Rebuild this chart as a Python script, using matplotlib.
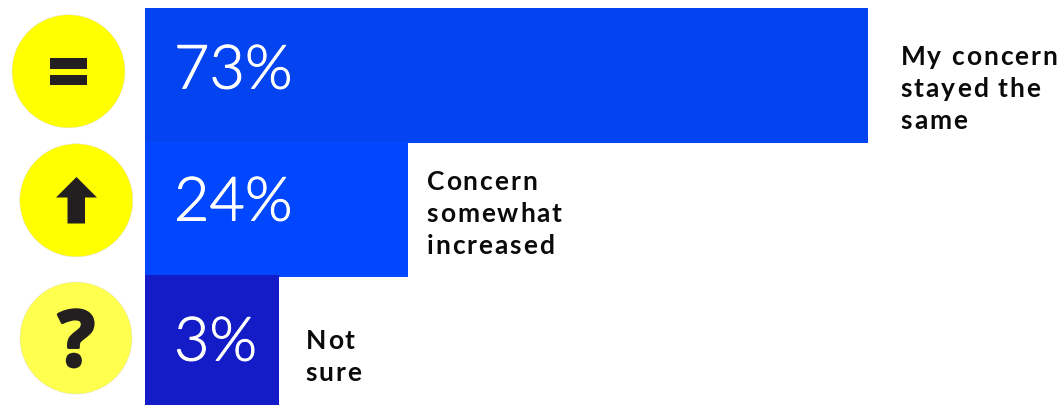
#!/bin/python3
import numpy as np
import matplotlib
matplotlib.use("Agg")
import matplotlib.pyplot as plt
import matplotlib.patheffects as pe
from matplotlib.patches import Circle, Polygon, Rectangle
from matplotlib.text import Text
from matplotlib.transforms import IdentityTransform

W, H = 1063, 405

# survey answers
answers = ["My concern\nstayed the\nsame", "Concern\nsomewhat\nincreased", "Not\nsure"]
shares = [73, 24, 3]
bar_colors = ["#0343F0", "#0047FF", "#141CC8"]
circle_colors = ["#FFFF00", "#FFFF00", "#FFFF4D"]

# bar lengths are not linear in the share, so the x axis is piecewise
scale_vals = [0, 3, 24, 73, 100]
scale_px = [0, 134, 263, 723, 976.5]

def forward(v):
    return np.interp(v, scale_vals, scale_px)

def inverse(p):
    return np.interp(p, scale_px, scale_vals)

# matplotlib has no letter spacing, so draw glyph by glyph but keep one artist
class SpacedText(Text):
    tracking = 1.9

    def draw(self, renderer):
        s = self.get_text()
        x0, y0 = self.get_position()
        for i, ch in enumerate(s):
            self.set_text(s[:i])
            adv = self.get_window_extent(renderer).width if i else 0
            self.set_text(ch)
            self.set_x(x0 + adv + i * self.tracking)
            super().draw(renderer)
        self.set_text(s)
        self.set_x(x0)

plt.rcParams["font.family"] = ["Lato", "DejaVu Sans"]
fig = plt.figure(figsize=(W / 100, H / 100), dpi=100, facecolor="white")

# backdrop axes in pixel coordinates, for the icons
bg = fig.add_axes([0, 0, 1, 1])
bg.set_xlim(0, W)
bg.set_ylim(H, 0)
bg.axis("off")

# bars
ax = fig.add_axes([145 / W, 0, (W - 145) / W, 1])
ax.set_xscale("function", functions=(forward, inverse))
ax.set_xlim(0, inverse(W - 145))
ax.set_ylim(H, 0)
ax.axis("off")
ax.patch.set_alpha(0)

tops = [8, 142, 275]
bottoms = [143, 277, 405]
for i in range(3):
    ax.barh((tops[i] + bottoms[i]) / 2, shares[i], height=bottoms[i] - tops[i],
            color=bar_colors[i], linewidth=0, zorder=i + 1)

pct_y = [88.5, 220.5, 360.5]
for i in range(3):
    fig.text(174 / W, 1 - pct_y[i] / H, f"{shares[i]}%", color="white", fontsize=44,
             fontweight=300, va="baseline", ha="left",
             path_effects=[pe.withStroke(linewidth=0.7, foreground="white")])

# answer labels, first-line baseline given
label_x = [900.5, 426.5, 305.5]
label_y = [64, 189, 348]
for i in range(3):
    for j, line in enumerate(answers[i].split("\n")):
        fig.add_artist(SpacedText(label_x[i], H - (label_y[i] + 32 * j) - 1, line,
                                  fontsize=19, fontweight="bold", color="#0A0A0A",
                                  va="baseline", ha="left",
                                  transform=IdentityTransform()))

# icons
centers = [(68.5, 71.3), (76.3, 200.3), (76, 338)]
radii = [56.5, 56.5, 56]
for c, r, col in zip(centers, radii, circle_colors):
    bg.add_patch(Circle(c, r, facecolor=col, edgecolor="#DDDDD0", linewidth=0.3))

dark = "#231F20"
bg.add_patch(Rectangle((50, 58), 37, 10.5, color=dark, linewidth=0))
bg.add_patch(Rectangle((50, 74.5), 37, 10.5, color=dark, linewidth=0))
bg.add_patch(Polygon([(76.5, 177), (97, 197.5), (85, 197.5), (85, 223.5),
                      (67.5, 223.5), (67.5, 197.5), (56, 197.5)], color=dark, linewidth=0))
bg.text(76.5, 366, "?", fontsize=56, fontweight="bold", color=dark, ha="center",
        va="baseline", family=["Open Sans", "DejaVu Sans"],
        path_effects=[pe.withStroke(linewidth=2, foreground=dark)])

fig.savefig("out.png", dpi=100)
